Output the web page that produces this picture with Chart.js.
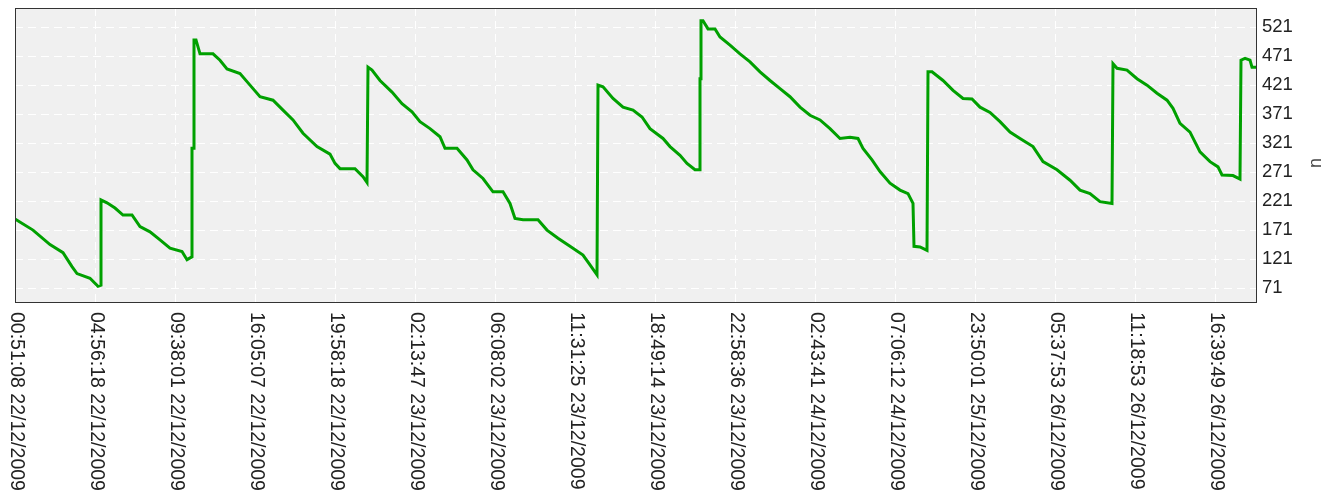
<!DOCTYPE html>
<html lang="en">
<head>
  <meta charset="UTF-8">
  <title>n over time</title>
  <script src="https://cdn.jsdelivr.net/npm/chart.js"></script>
  <style>
    body { margin: 0; background: #fff; }
    #wrap { width: 1334px; height: 492px; }
  </style>
</head>
<body>
  <div id="wrap"><canvas id="nChart" width="1334" height="492"></canvas></div>

  <script>
    // sample index of each labelled tick (one label every 80 samples)
    const tickIdx = [0, 80, 160, 240, 320, 400, 480, 560, 640, 720, 800, 880, 960, 1040, 1120, 1200];
    const tickLabels = [
      '00:51:08 22/12/2009', '04:56:18 22/12/2009', '09:38:01 22/12/2009', '16:05:07 22/12/2009',
      '19:58:18 22/12/2009', '02:13:47 23/12/2009', '06:08:02 23/12/2009', '11:31:25 23/12/2009',
      '18:49:14 23/12/2009', '22:58:36 23/12/2009', '02:43:41 24/12/2009', '07:06:12 24/12/2009',
      '23:50:01 25/12/2009', '05:37:53 26/12/2009', '11:18:53 26/12/2009', '16:39:49 26/12/2009'
    ];
    const yTicks = [71, 121, 171, 221, 271, 321, 371, 421, 471, 521];
    const yTitle = 'n';

    // series: sample index -> n
    const sampleIdx = [
      0, 18, 35, 48, 57, 62, 75, 83, 86, 86, 92, 100, 108, 117, 125, 135, 145, 155, 167, 172, 177, 177, 179, 179,
      181, 185, 198, 205, 212, 225, 235, 245, 258, 268, 278, 288, 302, 315, 320, 325, 340, 348, 352, 353,
      357, 365, 377, 387, 397, 405, 415, 425, 430, 442, 452, 458, 468, 478, 488, 495, 500, 508, 523, 532,
      543, 555, 568, 575, 582, 583, 588, 598, 608, 618, 627, 635, 648, 655, 665, 672, 680, 685, 685, 686,
      686, 688, 693, 700, 705, 715, 725, 735, 745, 755, 765, 775, 785, 795, 805, 815, 825, 835, 843, 848,
      857, 865, 875, 885, 893, 898, 899, 905, 912, 913, 917, 928, 938, 948, 957, 965, 975, 985, 995, 1005,
      1018, 1028, 1042, 1055, 1065, 1075, 1085, 1097, 1098, 1102, 1112, 1122, 1132, 1142, 1152, 1158, 1165,
      1175, 1185, 1195, 1203, 1207, 1218, 1225, 1226, 1230, 1235, 1237, 1242
    ];
    const nValues = [
      190, 171, 146, 132, 108, 96, 88, 74, 76, 223, 218, 209, 197, 197, 177, 168, 154, 140, 134, 120, 125, 312, 312,
      499, 499, 475, 475, 464, 449, 441, 421, 401, 395, 378, 361, 338, 315, 302, 286, 277, 277, 263, 253, 452,
      447, 429, 409, 389, 375, 358, 346, 332, 312, 312, 292, 275, 260, 237, 237, 217, 191, 189, 189, 171,
      157, 143, 128, 111, 94, 421, 418, 398, 383, 378, 366, 346, 329, 315, 300, 286, 275, 275, 432, 432,
      532, 532, 518, 518, 504, 490, 475, 461, 444, 429, 415, 401, 383, 369, 361, 346, 329, 331, 329, 312,
      292, 272, 252, 240, 234, 217, 143, 142, 136, 444, 444, 429, 412, 398, 397, 383, 374, 358, 340, 329,
      315, 289, 275, 257, 240, 234, 220, 217, 458, 450, 447, 432, 421, 407, 395, 381, 355,
      340, 306, 289, 280, 266, 265, 259, 464, 467, 464, 452, 452
    ];

    const points = sampleIdx.map((x, i) => ({ x: x, y: nValues[i] }));
    const FONT = '"Liberation Sans", Arial, sans-serif';

    const plotBg = {
      id: 'plotBg',
      beforeDraw(chart) {
        const { ctx, chartArea: a } = chart;
        ctx.save();
        ctx.fillStyle = '#f0f0f0';
        ctx.fillRect(a.left, a.top, a.right - a.left, a.bottom - a.top);
        ctx.restore();
      },
      afterDraw(chart) {
        const { ctx, chartArea: a } = chart;
        const xs = chart.scales.x;
        ctx.save();
        ctx.strokeStyle = '#333';
        ctx.lineWidth = 1;
        ctx.strokeRect(a.left + 0.5, a.top + 0.5, a.right - a.left - 1, a.bottom - a.top);
        // x labels, rotated to read top to bottom
        ctx.fillStyle = '#222';
        ctx.font = '19.5px ' + FONT;
        ctx.textAlign = 'left';
        ctx.textBaseline = 'middle';
        tickIdx.forEach((v, i) => {
          const px = xs.getPixelForValue(v);
          ctx.save();
          ctx.translate(px + 1, a.bottom + 10);
          ctx.rotate(Math.PI / 2);
          ctx.fillText(tickLabels[i], 0, 0);
          ctx.restore();
        });
        // y axis title, reads bottom to top
        ctx.fillStyle = '#444';
        ctx.font = '18px ' + FONT;
        ctx.textAlign = 'center';
        ctx.save();
        ctx.translate(1316, (a.top + a.bottom) / 2 + 8);
        ctx.rotate(-Math.PI / 2);
        ctx.fillText(yTitle, 0, 0);
        ctx.restore();
        ctx.restore();
      }
    };

    const gridOpts = {
      color: '#ffffff',
      lineWidth: 1,
      drawTicks: false
    };

    new Chart(document.getElementById('nChart'), {
      type: 'line',
      data: {
        datasets: [{
          label: 'n',
          data: points,
          borderColor: '#00a000',
          borderWidth: 3,
          pointRadius: 0,
          tension: 0,
          fill: false
        }]
      },
      options: {
        responsive: false,
        animation: false,
        layout: { padding: { left: 15, top: 8, right: 0, bottom: 0 } },
        plugins: { legend: { display: false }, tooltip: { enabled: false } },
        scales: {
          x: {
            type: 'linear',
            min: 0,
            max: 1242,
            afterBuildTicks: s => { s.ticks = tickIdx.map(v => ({ value: v })); },
            afterFit: s => { s.height = 190; s.paddingLeft = 0; s.paddingRight = 0; },
            ticks: { display: false },
            grid: gridOpts,
            border: { display: false, dash: [8, 5] }
          },
          y: {
            position: 'right',
            min: 47,
            max: 554,
            afterBuildTicks: s => { s.ticks = yTicks.map(v => ({ value: v })); },
            afterFit: s => { s.width = 77; s.paddingTop = 0; s.paddingBottom = 0; },
            ticks: {
              color: '#222',
              padding: 5,
              font: { family: FONT, size: 18.5 }
            },
            grid: gridOpts,
            border: { display: false, dash: [8, 5] }
          }
        }
      },
      plugins: [plotBg]
    });
  </script>
</body>
</html>
